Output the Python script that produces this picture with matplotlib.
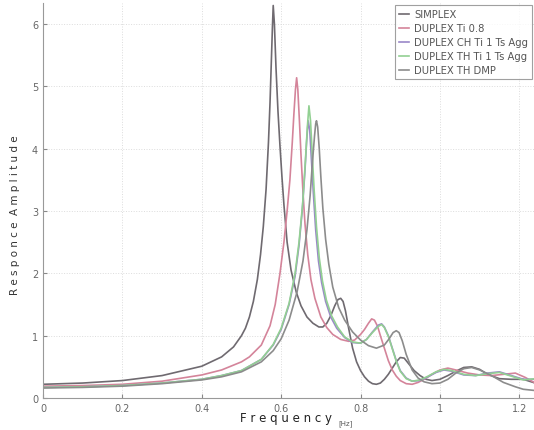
import matplotlib
matplotlib.use("Agg")
import matplotlib.pyplot as plt

# ---- data ----
simplex_x = [0, 0.1, 0.2, 0.3, 0.4, 0.45, 0.48, 0.5, 0.51, 0.52, 0.53, 0.54, 0.548, 0.555, 0.562,
             0.568, 0.572, 0.575, 0.578, 0.58, 0.583, 0.587, 0.592, 0.597, 0.602, 0.607, 0.615,
             0.625, 0.638, 0.65, 0.665, 0.68, 0.695, 0.705, 0.715, 0.725, 0.735, 0.743, 0.75,
             0.756, 0.762, 0.77, 0.78, 0.79, 0.80, 0.81, 0.82, 0.83, 0.84, 0.85, 0.86, 0.87,
             0.88, 0.89, 0.90, 0.91, 0.92, 0.935, 0.95, 0.965, 0.98, 1.0, 1.02, 1.04, 1.06,
             1.08, 1.1, 1.12, 1.15, 1.18, 1.21, 1.24]
simplex_y = [0.22, 0.24, 0.28, 0.36, 0.51, 0.66, 0.82, 1.0, 1.12, 1.3, 1.55, 1.9, 2.3, 2.75, 3.35,
             4.1, 4.75, 5.35, 5.95, 6.3, 6.0, 5.3, 4.6, 4.05, 3.55, 3.1, 2.5,
             2.05, 1.7, 1.48, 1.3, 1.2, 1.14, 1.14, 1.2, 1.32, 1.48, 1.58, 1.6,
             1.55, 1.4, 1.12, 0.8, 0.58, 0.44, 0.34, 0.27, 0.23, 0.22, 0.24, 0.3, 0.38,
             0.48, 0.58, 0.65, 0.64, 0.56, 0.44, 0.36, 0.3, 0.28, 0.3, 0.36, 0.43, 0.49,
             0.5, 0.46, 0.38, 0.31, 0.3, 0.3, 0.24]

ti08_x = [0, 0.1, 0.2, 0.3, 0.4, 0.45, 0.5, 0.52, 0.55, 0.572, 0.585, 0.597, 0.607, 0.615,
          0.622, 0.628, 0.632, 0.636, 0.639, 0.642, 0.646, 0.65, 0.655, 0.66, 0.667, 0.675,
          0.685, 0.70, 0.715, 0.73, 0.75, 0.77, 0.785, 0.80, 0.81, 0.82, 0.828, 0.835, 0.843,
          0.85, 0.86, 0.87, 0.88, 0.89, 0.90, 0.915, 0.93, 0.945, 0.96, 0.98, 1.0, 1.02, 1.04,
          1.07, 1.1, 1.13, 1.16, 1.19, 1.215, 1.24]
ti08_y = [0.19, 0.2, 0.22, 0.27, 0.37, 0.45, 0.58, 0.66, 0.85, 1.16, 1.5, 2.0, 2.5, 3.0,
          3.5, 4.1, 4.55, 4.95, 5.14, 4.95, 4.45, 3.9, 3.3, 2.8, 2.3, 1.9,
          1.6, 1.3, 1.13, 1.02, 0.94, 0.91, 0.93, 1.02, 1.1, 1.2, 1.27, 1.25, 1.15,
          1.0, 0.8, 0.6, 0.45, 0.35, 0.28, 0.23, 0.22, 0.25, 0.3, 0.38, 0.45, 0.48, 0.45,
          0.4, 0.37, 0.36, 0.38, 0.4, 0.33, 0.24]

chti_x = [0, 0.1, 0.2, 0.3, 0.4, 0.45, 0.5, 0.55, 0.58, 0.60, 0.62, 0.635, 0.645, 0.653, 0.66,
          0.664, 0.668, 0.672, 0.676, 0.681, 0.687, 0.694, 0.702, 0.712, 0.725, 0.74, 0.76,
          0.78, 0.80, 0.815, 0.83, 0.845, 0.853, 0.86, 0.87, 0.88, 0.89, 0.90, 0.915, 0.93,
          0.95, 0.97, 0.99, 1.01, 1.03, 1.06, 1.09, 1.12, 1.15, 1.18, 1.21, 1.24]
chti_y = [0.17, 0.18, 0.2, 0.24, 0.3, 0.36, 0.44, 0.62, 0.85, 1.1, 1.5, 1.95, 2.45, 3.0, 3.65,
          4.1, 4.45, 4.3, 3.85, 3.3, 2.7, 2.2, 1.85, 1.55, 1.3, 1.12, 0.97,
          0.89, 0.88, 0.94, 1.06, 1.17, 1.19, 1.14, 1.0, 0.8, 0.6, 0.44, 0.32, 0.27,
          0.28, 0.34, 0.41, 0.45, 0.43, 0.37, 0.36, 0.4, 0.42, 0.36, 0.3, 0.3]

thti_x = [0, 0.1, 0.2, 0.3, 0.4, 0.45, 0.5, 0.55, 0.58, 0.60, 0.62, 0.635, 0.645, 0.654, 0.661,
          0.666, 0.67, 0.674, 0.678, 0.683, 0.689, 0.696, 0.704, 0.714, 0.727, 0.742, 0.76,
          0.78, 0.80, 0.815, 0.83, 0.845, 0.853, 0.86, 0.87, 0.88, 0.89, 0.90, 0.915, 0.93,
          0.95, 0.97, 0.99, 1.01, 1.03, 1.06, 1.09, 1.12, 1.15, 1.18, 1.21, 1.24]
thti_y = [0.17, 0.18, 0.2, 0.24, 0.3, 0.36, 0.44, 0.62, 0.86, 1.12, 1.52, 2.0, 2.5, 3.1, 3.8,
          4.35, 4.69, 4.45, 3.95, 3.35, 2.75, 2.25, 1.88, 1.57, 1.32, 1.14, 0.98,
          0.9, 0.88, 0.94, 1.05, 1.15, 1.18, 1.13, 0.99, 0.79, 0.59, 0.43, 0.31, 0.27,
          0.29, 0.35, 0.42, 0.46, 0.44, 0.38, 0.36, 0.39, 0.41, 0.35, 0.29, 0.31]

dmp_x = [0, 0.1, 0.2, 0.3, 0.4, 0.45, 0.5, 0.55, 0.58, 0.60, 0.62, 0.64, 0.655, 0.665, 0.673,
         0.679, 0.684, 0.687, 0.689, 0.692, 0.696, 0.70, 0.705, 0.712, 0.72, 0.73, 0.745,
         0.76, 0.78, 0.80, 0.82, 0.84, 0.86, 0.872, 0.882, 0.89, 0.897, 0.905, 0.915, 0.93,
         0.945, 0.96, 0.98, 1.0, 1.02, 1.04, 1.06, 1.08, 1.1, 1.13, 1.16, 1.19, 1.21, 1.24]
dmp_y = [0.16, 0.17, 0.19, 0.23, 0.29, 0.34, 0.42, 0.58, 0.76, 0.95, 1.25, 1.7, 2.2, 2.7, 3.25,
         3.8, 4.2, 4.4, 4.45, 4.35, 4.0, 3.55, 3.05, 2.55, 2.15, 1.78, 1.45,
         1.25, 1.06, 0.93, 0.84, 0.8, 0.85, 0.95, 1.05, 1.08, 1.05, 0.92, 0.7, 0.45,
         0.32, 0.26, 0.23, 0.24, 0.3, 0.4, 0.47, 0.49, 0.45, 0.36, 0.25, 0.18, 0.14, 0.12]

labels = ["SIMPLEX", "DUPLEX Ti 0.8", "DUPLEX CH Ti 1 Ts Agg", "DUPLEX TH Ti 1 Ts Agg", "DUPLEX TH DMP"]
colors = ["#6f6a70", "#d4849a", "#9a88c8", "#92d092", "#8c8c8c"]

x_ticks = [0, 0.2, 0.4, 0.6, 0.8, 1.0, 1.2]
x_ticklabels = ["0", "0.2", "0.4", "0.6", "0.8", "1", "1.2"]
y_ticks = [0, 1, 2, 3, 4, 5, 6]

# ---- figure ----
fig = plt.figure(figsize=(5.34, 4.31), dpi=100)
ax = fig.add_axes([43 / 534, 32 / 431, 1 - 43 / 534, 395 / 431])

series = [(simplex_x, simplex_y), (ti08_x, ti08_y), (chti_x, chti_y), (thti_x, thti_y), (dmp_x, dmp_y)]
for (xs, ys), lab, col in zip(series, labels, colors):
    ax.plot(xs, ys, color=col, lw=1.2, label=lab, solid_joinstyle="round")

ax.set_xlim(0, 1.237)
ax.set_ylim(0, 6.34)
ax.set_xticks(x_ticks)
ax.set_xticklabels(x_ticklabels)
ax.set_yticks(y_ticks)
ax.tick_params(direction="in", length=3, colors="#888888", labelcolor="#666666", labelsize=7)
ax.grid(True, color="#dcdcdc", lw=0.7, ls=":")
for s in ["top", "right"]:
    ax.spines[s].set_visible(False)
for s in ["left", "bottom"]:
    ax.spines[s].set_color("#999999")

leg = ax.legend(loc="upper right", fontsize=7.2, frameon=True, fancybox=False,
                edgecolor="#888888", handlelength=1.0, borderaxespad=0.2,
                labelspacing=0.4, borderpad=0.4, handletextpad=0.5)
leg.get_frame().set_linewidth(0.8)
for t in leg.get_texts():
    t.set_color("#555555")

fig.text(15 / 534, 0.5, "R e s p o n c e  A m p l i t u d e",
         rotation=90, ha="center", va="center", fontsize=7.5, color="#333333")
fig.text(286 / 534, 1 - 419 / 431, "F r e q u e n c y", ha="center", va="center",
         fontsize=8.5, color="#222222")
fig.text(346 / 534, 1 - 424 / 431, "[Hz]", ha="center", va="center", fontsize=5, color="#555555")

fig.savefig("out.png", dpi=100)
